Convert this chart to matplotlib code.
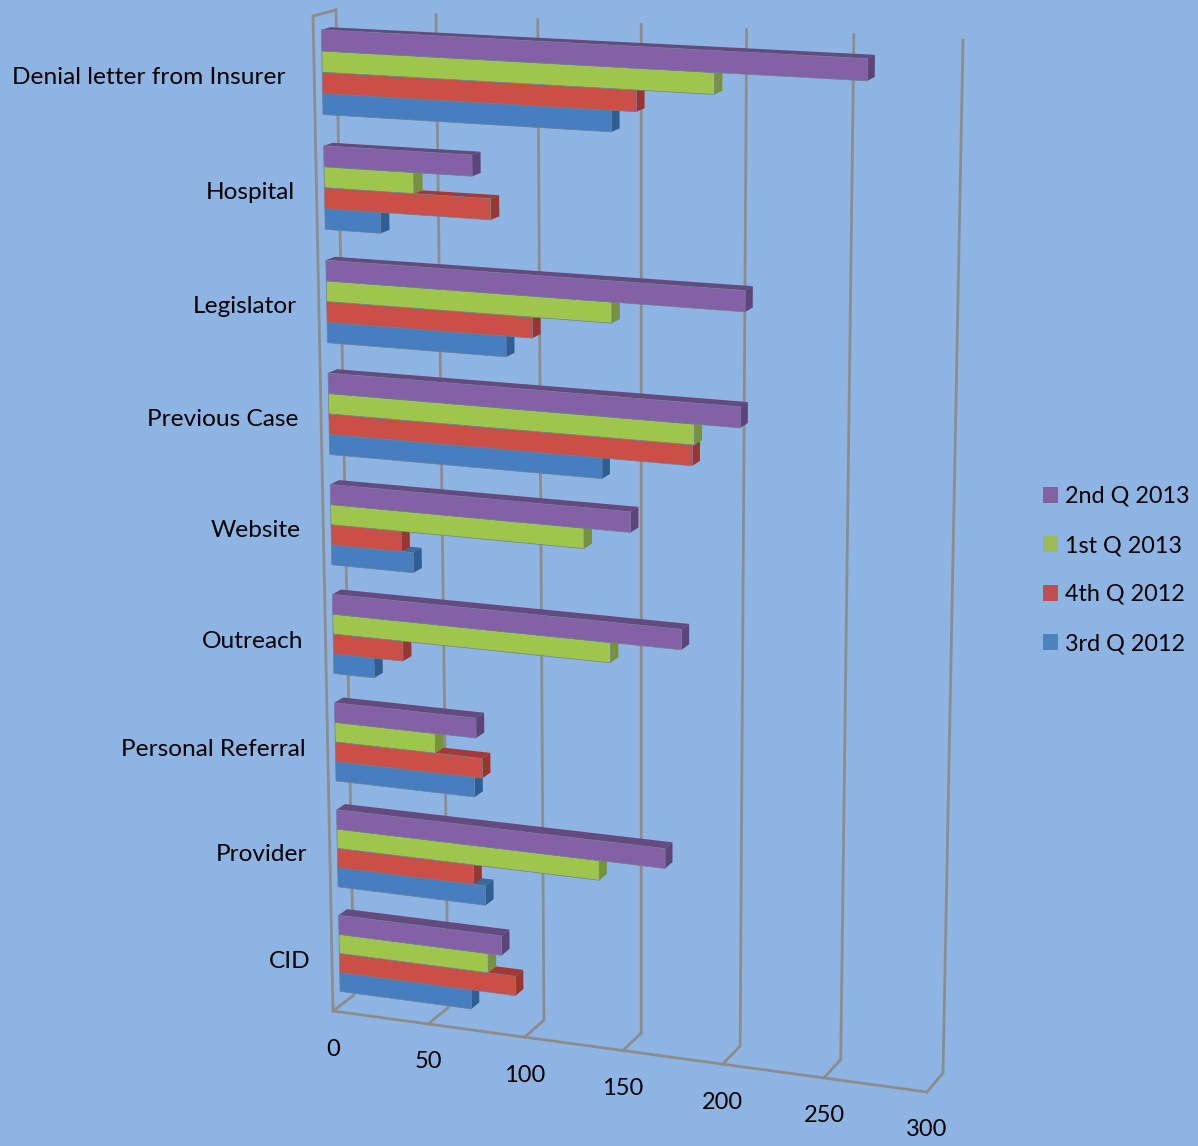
import numpy as np
import matplotlib
matplotlib.use("Agg")
import matplotlib.pyplot as plt
from matplotlib.patches import Patch, Polygon

plt.rcParams['font.family'] = ['Lato', 'DejaVu Sans']

categories = ['Denial letter from Insurer', 'Hospital', 'Legislator', 'Previous Case',
              'Website', 'Outreach', 'Personal Referral', 'Provider', 'CID']
q2_2013 = [262, 74, 206, 204, 151, 176, 73, 168, 85]
q1_2013 = [191, 45, 142, 182, 128, 141, 52, 135, 78]
q4_2012 = [154, 83, 103, 181, 36, 36, 76, 71, 92]
q3_2012 = [142, 28, 90, 137, 42, 21, 72, 77, 69]
series_names = ['2nd Q 2013', '1st Q 2013', '4th Q 2012', '3rd Q 2012']
x_ticks = [0, 50, 100, 150, 200, 250, 300]

BG = '#8DB4E2'
GRID = '#8C8C8C'
# front, top, side
face_cols = ['#8460A6', '#9FC54D', '#CB4E47', '#467EBF']
top_cols = ['#644A80', '#7E9A3E', '#A33A38', '#3A6A9E']
side_cols = ['#5E4479', '#76923A', '#9C3430', '#2F5F92']
legend_cols = ['#8064A2', '#9BBB59', '#C0504D', '#4F81BD']


def homography(src, dst):
    A = []
    b = []
    for (u, v), (x, y) in zip(src, dst):
        A.append([u, v, 1, 0, 0, 0, -u * x, -v * x])
        A.append([0, 0, 0, u, v, 1, -u * y, -v * y])
        b += [x, y]
    return np.append(np.linalg.solve(np.array(A, float), np.array(b, float)), 1).reshape(3, 3)


corners = [(0, 0), (300, 0), (0, 1), (300, 1)]
# back wall and front plane of the chart box, in pixels
H_back = homography(corners, [(336, 10), (963, 40), (354, 995), (943, 1073)])
H_front = homography(corners, [(313, 16), (945, 50), (333, 1011), (927, 1092)])


def project(v, h, d):
    # v value, h 0..1 top to bottom, d 0 back .. 1 front
    p = np.array([v, h, 1.0])
    a = H_back @ p
    b = H_front @ p
    a = a[:2] / a[2]
    b = b[:2] / b[2]
    return a + (b - a) * d


fig = plt.figure(figsize=(11.98, 11.46), dpi=100, facecolor=BG)
ax = fig.add_axes([0, 0, 1, 1])
ax.set_xlim(0, 1198)
ax.set_ylim(1146, 0)
ax.axis('off')

# box lines
for t in x_ticks:
    pts = np.array([project(t, 0, 0), project(t, 1, 0), project(t, 1, 1)])
    ax.plot(pts[:, 0], pts[:, 1], color=GRID, lw=2.0, solid_joinstyle='miter', zorder=1)
pts = np.array([project(0, 0, 0), project(0, 0, 1), project(0, 1, 1), project(300, 1, 1)])
ax.plot(pts[:, 0], pts[:, 1], color=GRID, lw=2.0, solid_joinstyle='miter', zorder=1)

# bars, lowest series first so the upper ones overlap them
D_FRONT = 0.65
D_BACK = 0.25
GAP = 0.135
BAR = 0.1825
n = len(categories)
series = [q2_2013, q1_2013, q4_2012, q3_2012]
for i in range(n):
    for j in [3, 2, 1, 0]:
        val = series[j][i]
        h0 = (i + GAP + j * BAR) / n
        h1 = (i + GAP + (j + 1) * BAR) / n
        a = project(0, h0, D_FRONT)
        b = project(val, h0, D_FRONT)
        c = project(val, h1, D_FRONT)
        d = project(0, h1, D_FRONT)
        a2 = project(0, h0, D_BACK)
        b2 = project(val, h0, D_BACK)
        c2 = project(val, h1, D_BACK)
        z = 2 + i * 0.1 + (3 - j) * 0.01
        ax.add_patch(Polygon([a, a2, b2, b], fc=top_cols[j], ec='none', zorder=z))
        ax.add_patch(Polygon([b, b2, c2, c], fc=side_cols[j], ec='none', zorder=z))
        ax.add_patch(Polygon([a, b, c, d], fc=face_cols[j], ec='#6F7F90', lw=0.5, zorder=z))

# category labels
label_pad = [37, 30, 30, 30, 30, 30, 30, 30, 29]
label_drop = [5, 5, 5, 6, 6, 7, 8, 6, 8]
for i, name in enumerate(categories):
    h0 = (i + GAP) / n
    h1 = (i + GAP + 4 * BAR) / n
    p = project(0, (h0 + h1) / 2, D_FRONT)
    ax.text(p[0] - label_pad[i], p[1] + label_drop[i], name, ha='right', va='center', fontsize=17.6, color='black')

# value labels
for t in x_ticks:
    p = project(t, 1, 1)
    ax.text(p[0], p[1] + 38, str(t), ha='center', va='center', fontsize=17, color='black')

handles = [Patch(fc=c, ec='none') for c in legend_cols]
ax.legend(handles, series_names, loc='center left', bbox_to_anchor=(1043 / 1198, 1 - 570 / 1146),
          frameon=False, fontsize=16.8, handlelength=0.65, handleheight=0.65, handletextpad=0.3,
          labelspacing=1.2, borderpad=0, borderaxespad=0)

fig.savefig('out.png', dpi=100, facecolor=BG)
